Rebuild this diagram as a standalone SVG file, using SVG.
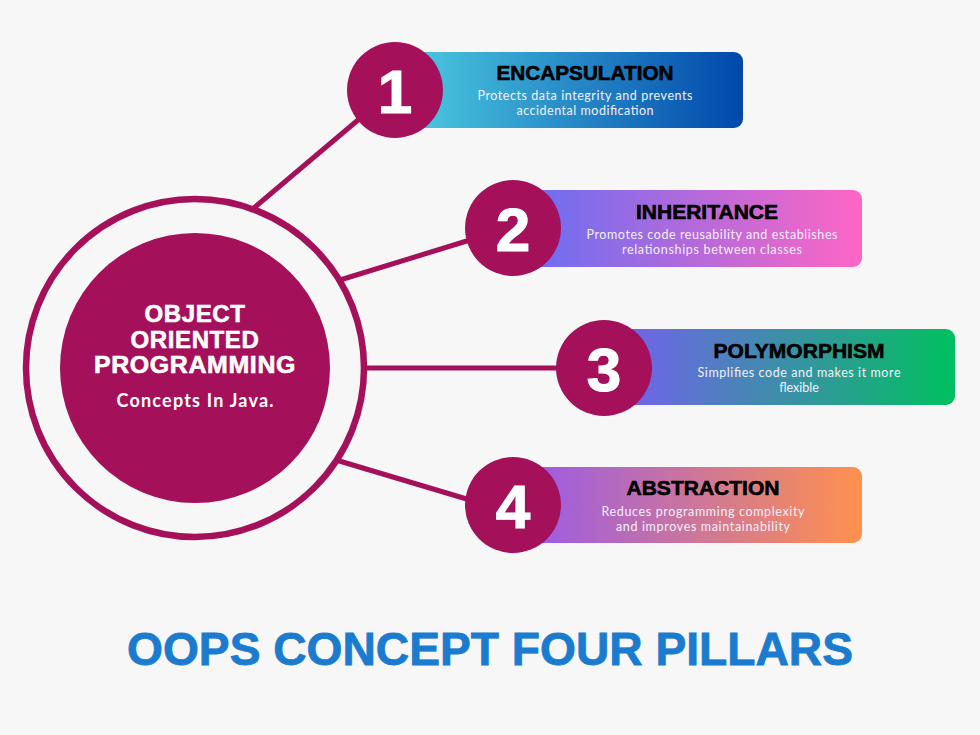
<svg xmlns="http://www.w3.org/2000/svg" width="980" height="735" viewBox="0 0 980 735">
<defs>
<linearGradient id="g1" x1="0" y1="0" x2="1" y2="0"><stop offset="0" stop-color="#4cc9e0"/><stop offset="1" stop-color="#0047ab"/></linearGradient>
<linearGradient id="g2" x1="0" y1="0" x2="1" y2="0"><stop offset="0" stop-color="#6a6ef2"/><stop offset="1" stop-color="#ff66c4"/></linearGradient>
<linearGradient id="g3" x1="0" y1="0" x2="1" y2="0"><stop offset="0" stop-color="#7461ec"/><stop offset="1" stop-color="#00c05f"/></linearGradient>
<linearGradient id="g4" x1="0" y1="0" x2="1" y2="0"><stop offset="0" stop-color="#9a5be6"/><stop offset="1" stop-color="#ff914d"/></linearGradient>
</defs>
<style>
.num{fill:#a4115a}
.digit{font-family:"Liberation Sans",Arial,sans-serif;font-weight:bold;font-size:62px;fill:#ffffff;stroke:#ffffff;stroke-width:1.2;text-anchor:middle}
.title{font-family:"Liberation Sans",Arial,sans-serif;font-weight:bold;font-size:20px;fill:#000000;stroke:#000000;stroke-width:0.6;text-anchor:middle}
.sub{font-family:Lato,"Noto Sans",sans-serif;font-size:12.5px;fill:#f2f0ff;text-anchor:middle}
.conn{stroke:#a4115a;stroke-width:5;fill:none;stroke-linecap:round}
.hub{font-family:"Liberation Sans",Arial,sans-serif;font-weight:bold;font-size:24px;fill:#ffffff;stroke:#ffffff;stroke-width:0.6;text-anchor:middle;letter-spacing:0.6px}
</style>
<rect width="980" height="735" fill="#f7f7f7"/>
<g id="connectors">
<line class="conn" x1="255" y1="207" x2="358" y2="120"/>
<line class="conn" x1="340" y1="280" x2="470" y2="240"/>
<line class="conn" x1="364" y1="368" x2="560" y2="368"/>
<line class="conn" x1="336" y1="460" x2="470" y2="500"/>
</g>
<g id="hub">
<circle cx="195" cy="368" r="169" fill="none" stroke="#a4115a" stroke-width="6.5"/>
<circle cx="195" cy="368" r="135" fill="#a4115a"/>
<text class="hub" x="195" y="322">OBJECT</text>
<text class="hub" x="195" y="348">ORIENTED</text>
<text class="hub" x="195" y="373" textLength="202" lengthAdjust="spacingAndGlyphs">PROGRAMMING</text>
<text x="195" y="407" font-family="Lato,'Noto Sans',sans-serif" font-weight="bold" font-size="18" fill="#ffffff" text-anchor="middle" textLength="157" lengthAdjust="spacing">Concepts In Java.</text>
</g>
<g id="node1">
<rect x="410" y="52" width="333" height="76" rx="9" fill="url(#g1)"/>
<circle class="num" cx="395" cy="90" r="48"/>
<text class="digit" x="395" y="113">1</text>
<text class="title" x="585" y="80" textLength="177" lengthAdjust="spacingAndGlyphs">ENCAPSULATION</text>
<text class="sub" x="585" y="100" textLength="215" lengthAdjust="spacing">Protects data integrity and prevents</text>
<text class="sub" x="585" y="115" textLength="137" lengthAdjust="spacing">accidental modification</text>
</g>
<g id="node2">
<rect x="528" y="190" width="334" height="77" rx="9" fill="url(#g2)"/>
<circle class="num" cx="513" cy="228" r="48"/>
<text class="digit" x="513" y="251">2</text>
<text class="title" x="707" y="219" textLength="142" lengthAdjust="spacingAndGlyphs">INHERITANCE</text>
<text class="sub" x="712" y="239" textLength="251" lengthAdjust="spacing">Promotes code reusability and establishes</text>
<text class="sub" x="712" y="254" textLength="180" lengthAdjust="spacing">relationships between classes</text>
</g>
<g id="node3">
<rect x="620" y="329" width="335" height="76" rx="9" fill="url(#g3)"/>
<circle class="num" cx="604" cy="368" r="48"/>
<text class="digit" x="604" y="391">3</text>
<text class="title" x="799" y="358" textLength="171" lengthAdjust="spacingAndGlyphs">POLYMORPHISM</text>
<text class="sub" x="799" y="377" textLength="203" lengthAdjust="spacing">Simplifies code and makes it more</text>
<text class="sub" x="799" y="392">flexible</text>
</g>
<g id="node4">
<rect x="528" y="467" width="334" height="76" rx="9" fill="url(#g4)"/>
<circle class="num" cx="513" cy="505" r="48"/>
<text class="digit" x="513" y="528">4</text>
<text class="title" x="703" y="495" textLength="153" lengthAdjust="spacingAndGlyphs">ABSTRACTION</text>
<text class="sub" x="703" y="516" textLength="203" lengthAdjust="spacing">Reduces programming complexity</text>
<text class="sub" x="703" y="531" textLength="174" lengthAdjust="spacing">and improves maintainability</text>
</g>
<text x="490" y="665" font-family="'Liberation Sans',Arial,sans-serif" font-weight="bold" font-size="46" fill="#1a7bcf" stroke="#1a7bcf" stroke-width="0.8" text-anchor="middle" textLength="726" lengthAdjust="spacingAndGlyphs">OOPS CONCEPT FOUR PILLARS</text>
</svg>
